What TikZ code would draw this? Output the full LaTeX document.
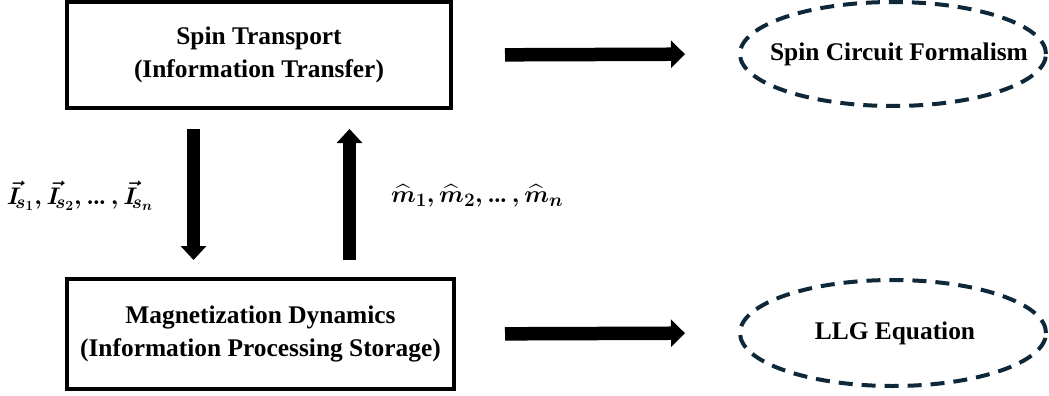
\RequirePackage{fix-cm}
\documentclass[tikz,border=0pt]{standalone}
\usepackage{amsmath}
\usepackage{fontspec}
\setmainfont{Liberation Serif}
\DeclareMathSizes{24}{24}{19}{14}
\usetikzlibrary{arrows.meta,shapes.geometric}
\definecolor{navy}{RGB}{14,40,58}
\newcommand{\tightdots}{\mathord{.}\mkern-1mu\mathord{.}\mkern-1mu\mathord{.}\,}
\begin{document}
\begin{tikzpicture}[x=1pt,y=-1pt,
  txt/.style={font=\bfseries\fontsize{25.4}{33}\selectfont},
  box/.style={draw=black,line width=4pt,inner sep=0pt,align=center,txt},
  oval/.style={ellipse,draw=navy,line width=4pt,dash pattern=on 14pt off 9pt,
    inner sep=0pt,minimum width=306pt},
  fath/.style={line width=13.5pt,draw=black,-{Triangle[length=14pt,width=27pt]}},
  fatv/.style={line width=13pt,draw=black,-{Triangle[length=14pt,width=25pt]}},
  lab/.style={font=\boldmath\fontsize{24}{28}\selectfont,inner sep=0pt}]
\useasboundingbox (0,0) rectangle (1049,396);
\node[box,minimum width=384pt,minimum height=106pt] (top) at (259,55)
  {Spin Transport\\(Information Transfer)};
\node[box,minimum width=387pt,minimum height=110pt] (bot) at (260.5,334)
  {Magnetization Dynamics\\(Information Processing Storage)};
\node[oval,minimum height=104pt,label={[txt,xshift=6pt]center:Spin Circuit Formalism}] (sc) at (893,54) {};
\node[oval,minimum height=106pt,label={[txt,xshift=2pt]center:LLG Equation}] (llg) at (893,333) {};
\draw[fath,shorten <=52pt,shorten >=53pt] (top.east) -- (sc.west);
\draw[fath,shorten <=49pt,shorten >=53pt] (bot.east) -- (llg.west);
\draw[fatv,shorten <=19pt,shorten >=17pt] ([xshift=-65.5pt]top.south) -- ([xshift=-65.5pt]top.south |- bot.north)
  node[midway,lab,anchor=base east,xshift=-34pt,yshift=-11pt] {$\vec{I}_{\!s_1},\vec{I}_{\!s_2},\tightdots,\vec{I}_{\!s_n}$};
\draw[fatv,shorten <=17pt,shorten >=19pt] ([xshift=90.5pt]top.south |- bot.north) -- ([xshift=90.5pt]top.south)
  node[midway,lab,anchor=base west,xshift=35pt,yshift=-9pt] {$\widehat{m}_1,\widehat{m}_2,\tightdots,\widehat{m}_n$};
\end{tikzpicture}
\end{document}
